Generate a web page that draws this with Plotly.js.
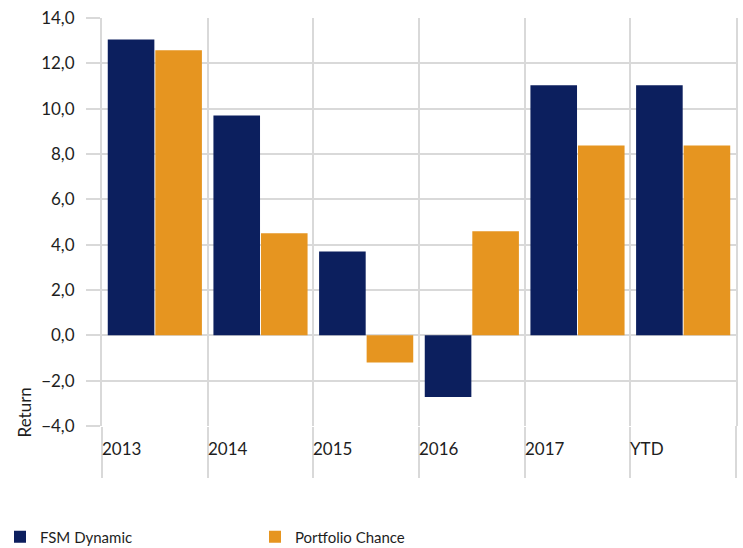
<!DOCTYPE html>
<html>
<head>
<meta charset="utf-8">
<script src="https://cdn.plot.ly/plotly-3.0.1.min.js"></script>
<style>
  html, body { margin: 0; padding: 0; background: #fff; }
  #chart { width: 743px; height: 548px; }
</style>
</head>
<body>
<div id="chart"></div>
<script>
    // Chart data
    var categories = ['2013', '2014', '2015', '2016', '2017', 'YTD'];
    var fsmDynamic = [13.05, 9.7, 3.7, -2.72, 11.03, 11.03];
    var portfolioChance = [12.58, 4.5, -1.2, 4.59, 8.38, 8.38];
    var seriesNames = ['FSM Dynamic', 'Portfolio Chance'];
    var yTickVals = [-4, -2, 0, 2, 4, 6, 8, 10, 12, 14];

    var gridColor = '#d9d9d9';
    var textColor = '#1e1e1e';

    var traces = [
        {
            x: categories,
            y: fsmDynamic,
            type: 'bar',
            name: seriesNames[0],
            marker: { color: '#0c1f5e' },
            hoverinfo: 'x+y'
        },
        {
            x: categories,
            y: portfolioChance,
            type: 'bar',
            name: seriesNames[1],
            marker: { color: '#e69520' },
            hoverinfo: 'x+y'
        }
    ];

    // Category labels sit at the left of each band, as in the spreadsheet chart.
    // x is the category index on the category axis.
    var categoryLabels = categories.map(function (cat, i) {
        return {
            text: cat,
            xref: 'x',
            yref: 'paper',
            x: i,
            y: 0,
            xanchor: 'left',
            yanchor: 'middle',
            xshift: -55,
            yshift: -22,
            showarrow: false,
            font: { size: 17, color: textColor }
        };
    });

    var layout = {
        width: 743,
        height: 548,
        margin: { t: 18, r: 7, b: 122, l: 102 },
        paper_bgcolor: '#ffffff',
        plot_bgcolor: '#ffffff',
        separators: ',.',
        font: { family: 'Lato, "Open Sans", sans-serif', size: 17, color: textColor },
        barmode: 'group',
        bargap: 0.1,
        bargroupgap: 0.02,
        showlegend: true,
        legend: {
            orientation: 'h',
            xref: 'container',
            yref: 'container',
            x: 0,
            y: 0.02,
            xanchor: 'left',
            yanchor: 'middle',
            entrywidth: 210,
            entrywidthmode: 'pixels',
            font: { size: 15, color: textColor },
            itemwidth: 30
        },
        xaxis: {
            type: 'category',
            categoryorder: 'array',
            categoryarray: categories,
            range: [-0.5, categories.length - 0.5],
            tickson: 'boundaries',
            ticks: 'outside',
            ticklen: 51,
            tickwidth: 2,
            tickcolor: gridColor,
            showticklabels: false,
            showgrid: true,
            gridcolor: gridColor,
            gridwidth: 2,
            showline: false,
            zeroline: false,
            fixedrange: true
        },
        yaxis: {
            range: [-4, 14],
            tickmode: 'array',
            tickvals: yTickVals,
            tickformat: '.1f',
            ticks: 'outside',
            ticklen: 14,
            tickwidth: 2,
            tickcolor: gridColor,
            ticklabelstandoff: 8,
            tickfont: { size: 17, color: textColor },
            showgrid: true,
            gridcolor: gridColor,
            gridwidth: 2,
            zeroline: true,
            zerolinecolor: gridColor,
            zerolinewidth: 2,
            showline: true,
            mirror: true,
            linecolor: gridColor,
            linewidth: 2,
            fixedrange: true
        },
        shapes: [
            // last boundary tick below the axis, right edge
            {
                type: 'line',
                xref: 'paper',
                yref: 'paper',
                x0: 1, x1: 1,
                y0: -0.125, y1: 0,
                line: { color: gridColor, width: 2 }
            }
        ],
        annotations: [
            {
                text: 'Return',
                xref: 'paper',
                yref: 'y',
                x: 0,
                y: -3.4,
                xanchor: 'center',
                yanchor: 'middle',
                xshift: -78,
                textangle: -90,
                showarrow: false,
                font: { size: 17, color: textColor }
            }
        ].concat(categoryLabels)
    };

    Plotly.newPlot('chart', traces, layout, { displayModeBar: false, staticPlot: true });
</script>
</body>
</html>
